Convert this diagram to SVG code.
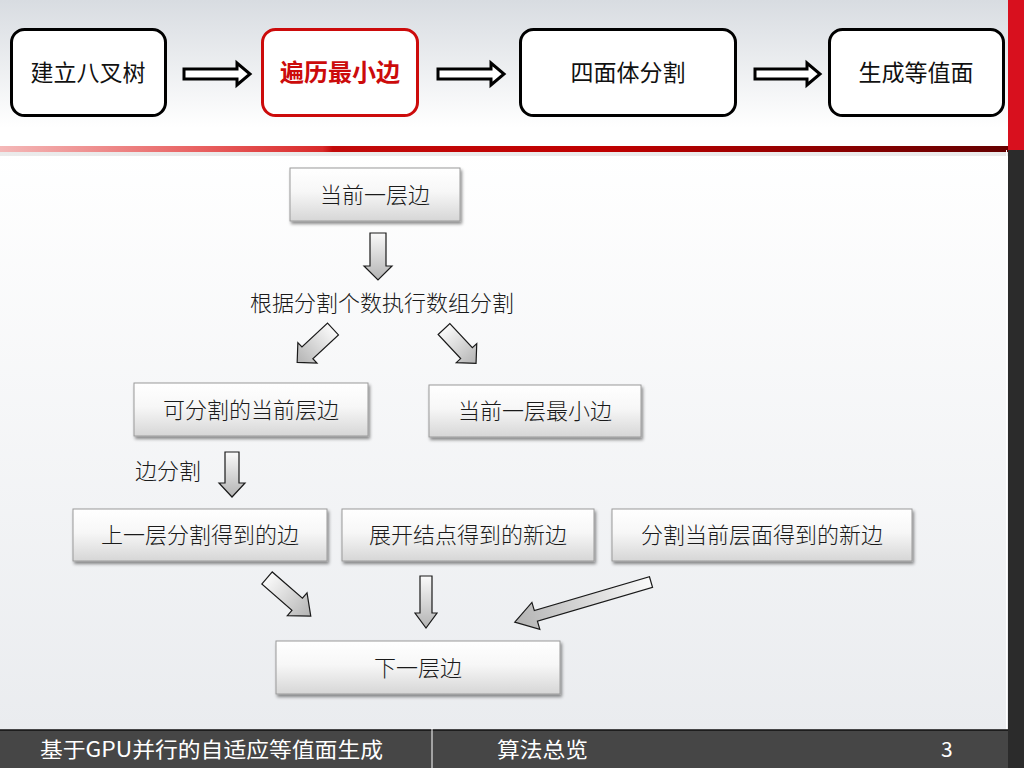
<svg xmlns="http://www.w3.org/2000/svg" width="1024" height="768" viewBox="0 0 1024 768">
<defs>
<linearGradient id="hdr" x1="0" y1="0" x2="0" y2="1"><stop offset="0" stop-color="#d8dce1"/><stop offset="0.85" stop-color="#ffffff"/><stop offset="1" stop-color="#ffffff"/></linearGradient>
<linearGradient id="body" x1="0" y1="0" x2="0" y2="1"><stop offset="0" stop-color="#ffffff"/><stop offset="1" stop-color="#eaecef"/></linearGradient>
<linearGradient id="redline" x1="0" y1="0" x2="1" y2="0"><stop offset="0" stop-color="#f4b8b8"/><stop offset="0.2" stop-color="#e86060"/><stop offset="0.32" stop-color="#d92a2a"/><stop offset="0.33" stop-color="#c20a0a"/><stop offset="0.6" stop-color="#c00000"/><stop offset="1" stop-color="#650000"/></linearGradient>
<linearGradient id="boxg" x1="0" y1="0" x2="0" y2="1"><stop offset="0" stop-color="#ffffff"/><stop offset="0.45" stop-color="#f7f7f7"/><stop offset="1" stop-color="#d6d6d6"/></linearGradient>
<linearGradient id="arrg" x1="0" y1="0" x2="0" y2="1"><stop offset="0" stop-color="#fafafa"/><stop offset="1" stop-color="#b3b3b3"/></linearGradient>
<filter id="sh" x="-10%" y="-20%" width="125%" height="150%"><feDropShadow dx="1.5" dy="2.5" stdDeviation="1.6" flood-color="#000" flood-opacity="0.45"/></filter>
</defs>
<style>
.tb{fill:#fff;stroke:#000;stroke-width:3}
.tbr{fill:#fff;stroke:#cc0b0b;stroke-width:3}
.ta{fill:#fff;stroke:#000;stroke-width:3;stroke-linejoin:miter}
.tt{font-family:"Noto Sans CJK SC","Noto Sans",sans-serif;font-size:23px;fill:#111;text-anchor:middle}
.ttr{font-family:"Noto Sans CJK SC","Noto Sans",sans-serif;font-size:24px;fill:#cc0b0b;text-anchor:middle;font-weight:bold}
.bx{fill:url(#boxg);stroke:#9a9a9a;stroke-width:1;filter:url(#sh)}
.bt{font-family:"Noto Sans CJK SC","Noto Sans",sans-serif;font-size:22px;fill:#1a1a1a;text-anchor:middle;font-weight:300}
.ar{fill:url(#arrg);stroke:#1a1a1a;stroke-width:1.2;stroke-linejoin:miter}
.ft{font-family:"Noto Sans CJK SC","Noto Sans",sans-serif;font-size:21px;fill:#fff}
</style>
<rect x="0" y="0" width="1024" height="150" fill="url(#hdr)"/>
<rect x="0" y="150" width="1024" height="580" fill="url(#body)"/>
<rect x="0" y="152" width="1008" height="4" fill="#000" opacity="0.08"/>
<rect x="0" y="146" width="1008" height="6" fill="url(#redline)"/>
<rect x="1008" y="0" width="16" height="150" fill="#d8101e"/>
<rect x="1008" y="150" width="16" height="618" fill="#2b2b2b"/>
<line x1="1006.5" y1="150" x2="1006.5" y2="730" stroke="#ffffff" stroke-width="1"/>

<g id="top-nodes">
<g id="n-octree"><rect class="tb" x="11.5" y="29.5" width="154" height="86" rx="13"/><text class="tt" x="88" y="81">建立八叉树</text></g>
<g id="n-traverse"><rect class="tbr" x="262.5" y="29.5" width="155" height="86" rx="13"/><text class="ttr" x="340" y="81">遍历最小边</text></g>
<g id="n-tetra"><rect class="tb" x="520.5" y="29.5" width="215" height="86" rx="13"/><text class="tt" x="628" y="81">四面体分割</text></g>
<g id="n-iso"><rect class="tb" x="829.5" y="29.5" width="174" height="86" rx="13"/><text class="tt" x="916" y="81">生成等值面</text></g>
</g>
<g id="top-connectors">
<path class="ta" d="M184,69 H237 V63 L250,74 L237,85 V79 H184 Z"/>
<path class="ta" d="M438,69 H491 V63 L504,74 L491,85 V79 H438 Z"/>
<path class="ta" d="M755,69 H807 V63 L820,74 L807,85 V79 H755 Z"/>
</g>

<g id="n1"><rect class="bx" x="290" y="168" width="170" height="53"/><text class="bt" x="375" y="203">当前一层边</text></g>
<g id="lbl-split"><text class="bt" x="382" y="311">根据分割个数执行数组分割</text></g>
<g id="n2"><rect class="bx" x="134" y="383" width="234" height="53"/><text class="bt" x="251" y="418">可分割的当前层边</text></g>
<g id="n3"><rect class="bx" x="429" y="385" width="212" height="52"/><text class="bt" x="535" y="419">当前一层最小边</text></g>
<g id="lbl-edge"><text class="bt" x="135" y="479" style="text-anchor:start">边分割</text></g>
<g id="n4"><rect class="bx" x="73" y="509" width="254" height="52"/><text class="bt" x="200" y="543">上一层分割得到的边</text></g>
<g id="n5"><rect class="bx" x="342" y="509" width="252" height="52"/><text class="bt" x="468" y="543">展开结点得到的新边</text></g>
<g id="n6"><rect class="bx" x="612" y="509" width="300" height="52"/><text class="bt" x="762" y="543">分割当前层面得到的新边</text></g>
<g id="n7"><rect class="bx" x="276" y="641" width="284" height="53"/><text class="bt" x="418" y="676">下一层边</text></g>

<g id="connectors">
<path class="ar" transform="translate(378,233)" d="M-8,0 H8 V33 H14 L0,47 L-14,33 H-8 Z"/>
<path class="ar" transform="translate(333,329) rotate(47)" d="M-8,0 H8 V35 H14 L0,49 L-14,35 H-8 Z"/>
<path class="ar" transform="translate(444,329) rotate(-43)" d="M-8,0 H8 V33 H14 L0,47 L-14,33 H-8 Z"/>
<path class="ar" transform="translate(232,452)" d="M-7,0 H7 V31 H13 L0,45 L-13,31 H-7 Z"/>
<path class="ar" transform="translate(267,578) rotate(-49)" d="M-8,0 H8 V40 H15 L0,58 L-15,40 H-8 Z"/>
<path class="ar" transform="translate(426,576)" d="M-6,0 H6 V37 H11 L0,52 L-11,37 H-6 Z"/>
<path class="ar" transform="translate(651,582) rotate(73.6)" d="M-5.5,0 H5.5 V120 H14 L0,142 L-14,120 H-5.5 Z"/>
</g>

<g id="footer">
<rect x="0" y="730" width="1008" height="38" fill="#464646"/>
<line x1="0" y1="730" x2="1008" y2="730" stroke="#111" stroke-width="1.5"/>
<line x1="432" y1="728" x2="432" y2="768" stroke="#ffffff" stroke-width="1"/>
<text class="ft" x="40" y="757" textLength="343" lengthAdjust="spacingAndGlyphs">基于GPU并行的自适应等值面生成</text>
<text class="ft" x="497" y="757" textLength="91" lengthAdjust="spacingAndGlyphs">算法总览</text>
<text class="ft" x="941" y="757">3</text>
</g>
</svg>
